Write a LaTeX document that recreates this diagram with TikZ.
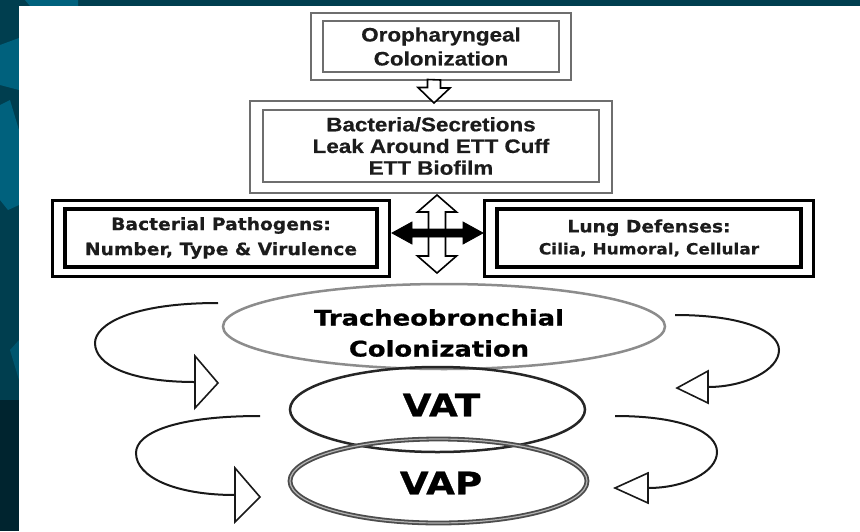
\documentclass[tikz,border=0pt]{standalone}
\usepackage{fontspec}
\usetikzlibrary{shapes.geometric,calc}
\newfontfamily\arialf[FakeStretch=1.15,FakeBold=0.6]{Liberation Sans}
\newfontfamily\verdf[FakeStretch=1.1,FakeBold=0.4]{DejaVu Sans}
\newfontfamily\verdw[FakeStretch=1.2,FakeBold=0.8]{DejaVu Sans}
\definecolor{bgdark}{HTML}{003E4F}
\definecolor{bgteal}{HTML}{00617D}
\definecolor{bgdeep}{HTML}{00242F}
\definecolor{txt}{HTML}{1C1C1C}
\definecolor{boxgray}{HTML}{6E6E6E}
\tikzset{
  obox/.style={draw=boxgray, line width=1.6pt, rectangle, inner sep=0pt, align=center, text=txt},
  oline/.style={draw=boxgray, line width=1.6pt},
  pbox/.style={draw=black, line width=3.6pt, rectangle, inner sep=0pt, align=center, text=txt},
  pline/.style={draw=black, line width=3pt},
  hol/.style={draw=black, line width=1.6pt, fill=white, line join=miter},
  blk/.style={draw=black, fill=black, line width=0.8pt, line join=miter},
  loopline/.style={draw=black!90, line width=2pt},
  openhead/.style={draw=black!90, line width=1.6pt, fill=white, line join=miter},
  ftxt/.style={text=black, align=center, inner sep=0pt}
}
\begin{document}
\begin{tikzpicture}[x=1pt,y=-1pt]
\useasboundingbox (0,0) rectangle (860,531);
% background slide
\fill[bgdark] (0,0) rectangle (860,531);
\fill[bgteal] (25,0) -- (78,0) -- (78,6) -- (30,6) -- cycle;
\fill[bgteal] (0,45) -- (19,38) -- (19,90) -- (0,85) -- cycle;
\fill[bgteal] (0,105) -- (10,100) -- (19,130) -- (19,205) -- (8,210) -- (0,200) -- cycle;
\fill[bgteal!70!bgdark] (10,350) -- (19,340) -- (19,380) -- cycle;
\fill[bgdeep] (0,400) rectangle (19,531);
\fill[white] (19,6) rectangle (860,531);

% box 1
\node[obox, minimum width=236pt, minimum height=51pt,
      font=\arialf\bfseries\fontsize{19.5}{24}\selectfont] (oro) at (441,46.5) {Oropharyngeal\\Colonization};
\draw[oline] ([shift={(-11,-7)}]oro.north west) rectangle ([shift={(11,7)}]oro.south east);

% box 2
\node[obox, minimum width=336pt, minimum height=72pt,
      font=\arialf\bfseries\fontsize{19.5}{21.7}\selectfont] (bac) at (431,146) {Bacteria/Secretions\\Leak Around ETT Cuff\\ETT Biofilm};
\draw[oline] ([shift={(-12.5,-8)}]bac.north west) rectangle ([shift={(12,10)}]bac.south east);

% box 3
\node[pbox, minimum width=312pt, minimum height=58pt,
      font=\verdf\bfseries\fontsize{17}{25}\selectfont] (path) at (221,238) {Bacterial Pathogens:\\Number, Type \& Virulence};
\draw[pline] ([shift={(-11,-7)}]path.north west) rectangle ([shift={(11,8)}]path.south east);

% box 4
\node[pbox, minimum width=304pt, minimum height=58pt,
      font=\verdf\bfseries\fontsize{17}{22}\selectfont] (lung) at (649,238) {Lung Defenses:\\{\fontsize{15.4}{18}\selectfont Cilia, Humoral, Cellular}};
\draw[pline] ([shift={(-11,-7)}]lung.north west) rectangle ([shift={(11,8)}]lung.south east);

% arrow box1 -> box2
\coordinate (a1) at (434,79.5);
\coordinate (a2) at (434,103);
\draw[hol] (a1) ++(-6.5,0) -- ++(0,8) -- ++(-9.5,0) -- (a2) -- ++(16,-15) -- ++(-9.5,0) -- ++(0,-8) -- cycle;

% vertical hollow double arrow
\coordinate (vt) at (437,195);
\coordinate (vb) at (437,273);
\draw[hol] (vt) -- ++(19.5,17) -- ++(-11,0) -- ++(0,44) -- ++(11,0) -- (vb) -- ++(-19.5,-17) -- ++(11,0) -- ++(0,-44) -- ++(-11,0) -- cycle;

% horizontal black double arrow
\coordinate (hl) at (392,233);
\coordinate (hr) at (483,233);
\draw[blk] (hl) -- ++(20,-11) -- ++(0,7) -- ++(51,0) -- ++(0,-7) -- (hr) -- ++(-20,11) -- ++(0,-7) -- ++(-51,0) -- ++(0,7) -- cycle;

% ellipses
\node[ellipse, draw=black!45, line width=2.5pt, minimum width=442pt, minimum height=85pt, inner sep=0pt] (tb) at (444,326.5) {};
\node[ftxt, font=\verdw\bfseries\fontsize{21.5}{31}\selectfont] (tbt) at (439,333) {Tracheobronchial\\Colonization};
\node[ellipse, draw=black!85, line width=2.5pt, minimum width=295pt, minimum height=85pt, inner sep=0pt] (vat) at (437.5,409.5) {};
\node[ftxt, font=\verdw\bfseries\fontsize{31}{36}\selectfont] (vatt) at (441.5,405) {VAT};
\node[ellipse, draw=black!70, double=black!30, double distance=1.2pt, line width=1.8pt, minimum width=297pt, minimum height=84pt, inner sep=0pt] (vap) at (438.5,481) {};
\node[ftxt, font=\verdw\bfseries\fontsize{31}{36}\selectfont] (vapt) at (441,483) {VAP};

% looping arrows
\coordinate (l1s) at (218,303);
\coordinate (l1e) at (195,382);
\draw[loopline] (l1s) .. controls (130,303) and (95,325) .. (95,343) .. controls (95,365) and (130,382) .. (l1e);
\draw[openhead] (l1e) ++(0,-26) -- ++(23,27) -- ++(-23,25) -- cycle;

\coordinate (l2s) at (260,416);
\coordinate (l2e) at (235,495);
\draw[loopline] (l2s) .. controls (175,416) and (136,433) .. (136,453) .. controls (136,477) and (175,495) .. (l2e);
\draw[openhead] (l2e) ++(0,-27) -- ++(25,29) -- ++(-25,25) -- cycle;

\coordinate (l3s) at (675,315);
\coordinate (l3e) at (708,387);
\draw[loopline] (l3s) .. controls (745,315) and (779,332) .. (779,350) .. controls (779,370) and (745,387) .. (l3e);
\draw[openhead] (l3e) ++(0,-16) -- ++(-31,17) -- ++(31,15) -- cycle;

\coordinate (l4s) at (615,416);
\coordinate (l4e) at (648,488);
\draw[loopline] (l4s) .. controls (685,416) and (717,433) .. (717,452) .. controls (717,472) and (685,488) .. (l4e);
\draw[openhead] (l4e) ++(0,-15) -- ++(-33,15) -- ++(33,15) -- cycle;
\end{tikzpicture}
\end{document}
